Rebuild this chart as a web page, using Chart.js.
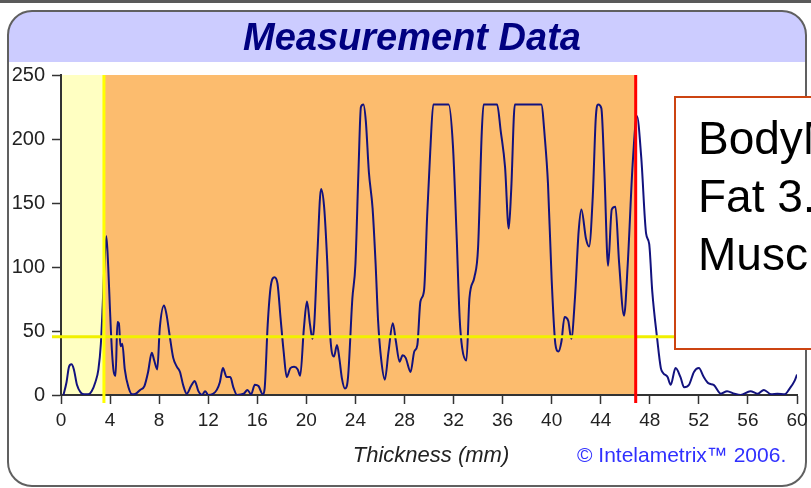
<!DOCTYPE html>
<html><head><meta charset="utf-8">
<script src="https://cdn.jsdelivr.net/npm/chart.js@4.4.1/dist/chart.umd.min.js"></script>
<style>html,body{margin:0;padding:0;background:#fff;overflow:hidden}#wrap{width:811px;height:488px;position:relative}</style>
</head><body><div id="wrap"><canvas id="c" width="811" height="488"></canvas></div>
<script>
// ---- data ----
const thicknessMm = [0.2,0.45,0.65,0.85,1.05,1.3,1.6,1.9,2.2,2.5,2.8,3.05,3.25,3.4,3.55,3.7,3.85,4.0,4.15,4.3,4.45,4.6,4.72,4.85,5.0,5.2,5.5,5.8,6.1,6.45,6.8,7.1,7.4,7.6,7.85,8.05,8.4,8.6,8.85,9.15,9.45,9.7,9.95,10.25,10.6,10.9,11.2,11.5,11.75,12.0,12.4,12.7,12.95,13.2,13.5,13.8,14.05,14.35,14.9,15.2,15.5,15.8,16.1,16.45,16.6,16.85,17.1,17.4,17.65,17.9,18.15,18.4,18.7,19.0,19.3,19.5,19.8,20.05,20.3,20.5,20.65,20.9,21.2,21.45,21.7,21.95,22.25,22.5,22.7,22.9,23.15,23.4,23.75,24.0,24.25,24.45,24.65,24.85,25.1,25.4,25.65,25.85,26.1,26.4,26.7,27.05,27.3,27.6,27.85,28.1,28.5,28.8,29.05,29.3,29.6,29.85,30.1,30.35,31.6,31.95,32.25,32.5,32.7,33.05,33.3,33.7,34.0,34.3,34.45,35.55,35.85,36.2,36.5,36.7,37.0,39.15,39.45,39.7,40.0,40.3,40.55,40.8,41.05,41.35,41.6,41.9,42.2,42.42,42.8,43.05,43.35,43.6,43.8,44.05,44.3,44.6,44.9,45.2,45.5,45.9,46.2,46.6,46.95,47.3,47.7,47.95,48.2,48.6,48.9,49.1,49.45,49.7,50.1,50.5,50.8,51.2,51.6,52.0,52.4,52.8,53.2,53.8,54.3,54.9,55.4,56.2,56.8,57.3,57.9,58.4,59.0,59.4,59.8,60.0];
const signal = [0,10,22,24,20,8,2,0.5,0.5,3,10,20,40,70,105,124,100,65,35,18,15,57,56,38,40,20,6,0.5,1,4,7,18,33,27,20,52,70,63,47,29,22,18,8,1,7,11,3,0,3,0,1,4,10,21,14,14,6,0,1,4,0.5,8,7,0.5,5,55,85,92,87,60,34,14,21,22,20,15,52,73,55,44,56,110,161,147,105,46,30,39,28,13,5,14,75,102,175,225,227,214,174,146,102,58,28,12,34,56,42,26,31,29,18,34,39,73,82,140,190,227,227,195,125,60,37,27,76,92,115,205,227,227,206,178,130,160,227,227,200,165,90,40,34,42,61,58,44,76,128,145,122,116,155,217,227,224,174,101,145,147,103,62,102,180,218,186,126,118,81,44,21,17,14,8,21,14,6,8,18,21,14,9,8,1,3,1,0,3,1,4,0.5,1,0.5,5,11,16];
const xTickValues = [0,4,8,12,16,20,24,28,32,36,40,44,48,52,56,60];
const yTickValues = [0,50,100,150,200,250];
const fatBoundaryMm = 3.5;
const muscleBoundaryMm = 46.85;
const thresholdLevel = 45.5;
const titleText = 'Measurement Data';
const axisTitleText = 'Thickness (mm)';
const creditText = '\u00A9 Intelametrix\u2122 2006.';
const boxLines = ['BodyM', 'Fat 3.', 'Musc'];

const points = thicknessMm.map((t, i) => ({x: t, y: signal[i]}));
const FONT = '"Liberation Sans", Arial, sans-serif';

function roundPath(ctx, x, y, w, h, r) {
  ctx.beginPath();
  ctx.moveTo(x + r, y);
  ctx.lineTo(x + w - r, y);
  ctx.arcTo(x + w, y, x + w, y + r, r);
  ctx.lineTo(x + w, y + h - r);
  ctx.arcTo(x + w, y + h, x + w - r, y + h, r);
  ctx.lineTo(x + r, y + h);
  ctx.arcTo(x, y + h, x, y + h - r, r);
  ctx.lineTo(x, y + r);
  ctx.arcTo(x, y, x + r, y, r);
  ctx.closePath();
}

const decor = {
  id: 'decor',
  beforeDraw(chart) {
    const ctx = chart.ctx, xs = chart.scales.x, ys = chart.scales.y;
    ctx.save();
    ctx.fillStyle = '#ffffff';
    ctx.fillRect(0, 0, chart.width, chart.height);
    ctx.fillStyle = '#5a5a5a';
    ctx.fillRect(0, 0, chart.width, 3);
    const fx = 8, fy = 11, fw = 798, fh = 475, r = 24;
    roundPath(ctx, fx, fy, fw, fh, r);
    ctx.fillStyle = '#ffffff';
    ctx.fill();
    ctx.save();
    ctx.clip();
    ctx.fillStyle = '#ccccff';
    ctx.fillRect(fx, fy, fw, 51);
    ctx.restore();
    roundPath(ctx, fx, fy, fw, fh, r);
    ctx.strokeStyle = '#606060';
    ctx.lineWidth = 2;
    ctx.stroke();
    ctx.fillStyle = '#000080';
    ctx.font = 'italic bold 38px ' + FONT;
    ctx.textAlign = 'center';
    ctx.textBaseline = 'alphabetic';
    ctx.fillText(titleText, 412, 50);
    const top = ys.getPixelForValue(ys.max), bot = ys.getPixelForValue(0);
    const x0 = xs.getPixelForValue(0), x1 = xs.getPixelForValue(fatBoundaryMm), x2 = xs.getPixelForValue(muscleBoundaryMm);
    ctx.fillStyle = '#ffffc2';
    ctx.fillRect(x0, top, x1 - x0, bot - top);
    ctx.fillStyle = '#fcbc6e';
    ctx.fillRect(x1, top, x2 - x1, bot - top);
    ctx.restore();
  },
  afterDatasetsDraw(chart) {
    const ctx = chart.ctx, xs = chart.scales.x, ys = chart.scales.y;
    const top = ys.getPixelForValue(ys.max), bot = ys.getPixelForValue(0);
    ctx.save();
    ctx.lineWidth = 3;
    const hy = ys.getPixelForValue(thresholdLevel);
    ctx.strokeStyle = '#f0f000';
    ctx.beginPath(); ctx.moveTo(52, hy); ctx.lineTo(xs.getPixelForValue(60), hy); ctx.stroke();
    const yx = xs.getPixelForValue(fatBoundaryMm);
    ctx.strokeStyle = '#ffff00';
    ctx.beginPath(); ctx.moveTo(yx, top); ctx.lineTo(yx, bot + 8); ctx.stroke();
    const rx = xs.getPixelForValue(muscleBoundaryMm);
    ctx.strokeStyle = '#ff0000';
    ctx.beginPath(); ctx.moveTo(rx, top); ctx.lineTo(rx, bot + 8); ctx.stroke();
    ctx.restore();
  },
  afterDraw(chart) {
    const ctx = chart.ctx;
    ctx.save();
    // axis title
    ctx.fillStyle = '#222';
    ctx.font = 'italic 22px ' + FONT;
    ctx.textAlign = 'center';
    ctx.textBaseline = 'alphabetic';
    ctx.fillText(axisTitleText, 431, 462);
    // credit
    ctx.fillStyle = '#3030ff';
    ctx.font = '21px ' + FONT;
    ctx.textAlign = 'left';
    ctx.fillText(creditText, 577, 462);
    // annotation box
    ctx.fillStyle = '#ffffff';
    ctx.fillRect(675, 97, 160, 252);
    ctx.strokeStyle = '#cc4411';
    ctx.lineWidth = 2;
    ctx.strokeRect(675, 97, 160, 252);
    ctx.fillStyle = '#000000';
    ctx.font = '46px ' + FONT;
    boxLines.forEach((s, i) => ctx.fillText(s, 698, 154 + i * 58));
    ctx.restore();
  }
};

const tickFontX = {family: FONT, size: 19};
const tickFontY = {family: FONT, size: 20};

new Chart(document.getElementById('c'), {
  type: 'line',
  data: {
    datasets: [{
      data: points,
      borderColor: '#12127e',
      borderWidth: 2,
      pointRadius: 0,
      fill: false,
      cubicInterpolationMode: 'monotone'
    }]
  },
  options: {
    responsive: false,
    animation: false,
    devicePixelRatio: 1,
    layout: {padding: {left: 0, top: 75, right: 14, bottom: 0}},
    plugins: {legend: {display: false}, tooltip: {enabled: false}, title: {display: false}},
    scales: {
      x: {
        type: 'linear', min: 0, max: 60,
        afterBuildTicks: s => { s.ticks = xTickValues.map(v => ({value: v})); },
        afterFit: s => { s.height = 93; s.paddingLeft = 0; s.paddingRight = 0; },
        ticks: {font: tickFontX, color: '#222', padding: 5, maxRotation: 0, autoSkip: false},
        grid: {drawOnChartArea: false, drawTicks: true, tickLength: 9, tickColor: '#333', tickWidth: 1.5},
        border: {display: true, color: '#333', width: 2}
      },
      y: {
        min: 0, max: 250,
        afterBuildTicks: s => { s.ticks = yTickValues.map(v => ({value: v})); },
        afterFit: s => { s.width = 61; s.paddingTop = 0; s.paddingBottom = 0; },
        ticks: {font: tickFontY, color: '#222', padding: 7},
        grid: {drawOnChartArea: false, drawTicks: true, tickLength: 9, tickColor: '#333', tickWidth: 1.5},
        border: {display: true, color: '#333', width: 2}
      }
    }
  },
  plugins: [decor]
});
</script></body></html>
